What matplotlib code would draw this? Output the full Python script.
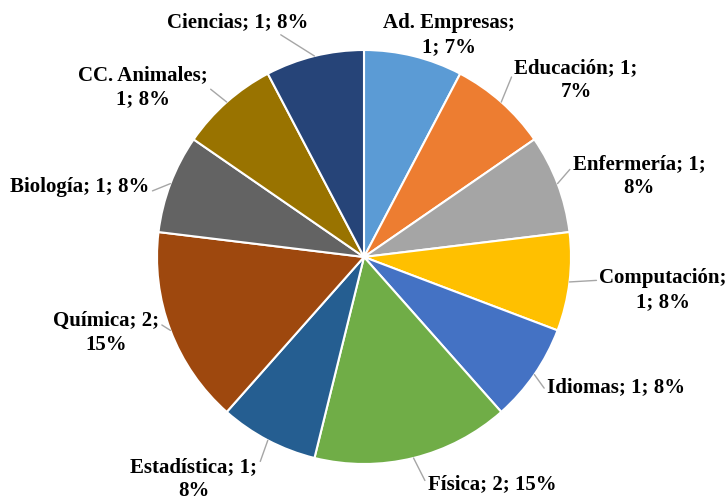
import numpy as np
import matplotlib.pyplot as plt

# Datos
carreras = ['Ad. Empresas', 'Educación', 'Enfermería', 'Computación', 'Idiomas',
            'Física', 'Estadística', 'Química', 'Biología', 'CC. Animales', 'Ciencias']
valores = [1, 1, 1, 1, 1, 2, 1, 2, 1, 1, 1]
porcentajes = [7, 7, 8, 8, 8, 15, 8, 15, 8, 8, 8]
colores = ['#5B9BD5', '#ED7D31', '#A5A5A5', '#FFC000', '#4472C4', '#70AD47',
           '#255E91', '#9E480E', '#636363', '#997300', '#264478']

# Dónde se corta cada etiqueta (como en el original)
cortes = ['c', 'b', 'b', 'c', 'n', 'n', 'b', 'b', 'n', 'c', 'n']

# Posición de cada etiqueta en píxeles (x, y desde arriba) y punto de unión de la guía
pos_px = [(449, 35), (576, 80), (639, 176), (663, 290), (616, 387), (492, 484),
          (194, 479), (106, 333), (80, 187), (143, 87), (238, 22)]
relpos = [None, (0, 0.72), (0, 0.72), (0, 0.72), (0, 0.25), (0, 0.4),
          (1, 0.72), (1, 0.72), (1, 0.25), (1, 0.5), (0.76, 0.05)]

W, H = 728, 497
cx, cy, R = 364, H - 257, 207

fig = plt.figure(figsize=(W / 100, H / 100), dpi=100)
ax = fig.add_axes([0, 0, 1, 1])

wedges, _ = ax.pie(valores, colors=colores, startangle=90, counterclock=False,
                   radius=R, center=(cx, cy), frame=True,
                   wedgeprops=dict(edgecolor='white', linewidth=1.5))
ax.set_xlim(0, W)
ax.set_ylim(0, H)
ax.set_aspect('auto')
ax.axis('off')

for i, w in enumerate(wedges):
    nombre, v, p = carreras[i], valores[i], porcentajes[i]
    if cortes[i] == 'c':
        txt = f'{nombre};\n{v}; {p}%'
    elif cortes[i] == 'b':
        txt = f'{nombre}; {v};\n{p}%'
    else:
        txt = f'{nombre}; {v}; {p}%'
    # guía desde el borde, en el ángulo medio de la porción
    ang = np.deg2rad((w.theta1 + w.theta2) / 2)
    punta = (cx + R * np.cos(ang), cy + R * np.sin(ang))
    tx, ty = pos_px[i]
    props = None
    if relpos[i] is not None:
        props = dict(arrowstyle='-', color='#A6A6A6', lw=1,
                     shrinkA=0, shrinkB=0, relpos=relpos[i])
    ax.annotate(txt, xy=punta, xytext=(tx, H - ty), ha='center', va='center',
                fontsize=15, fontweight='bold', family='Liberation Serif',
                linespacing=1.3, color='black', arrowprops=props)

fig.savefig('out.png', dpi=100)
